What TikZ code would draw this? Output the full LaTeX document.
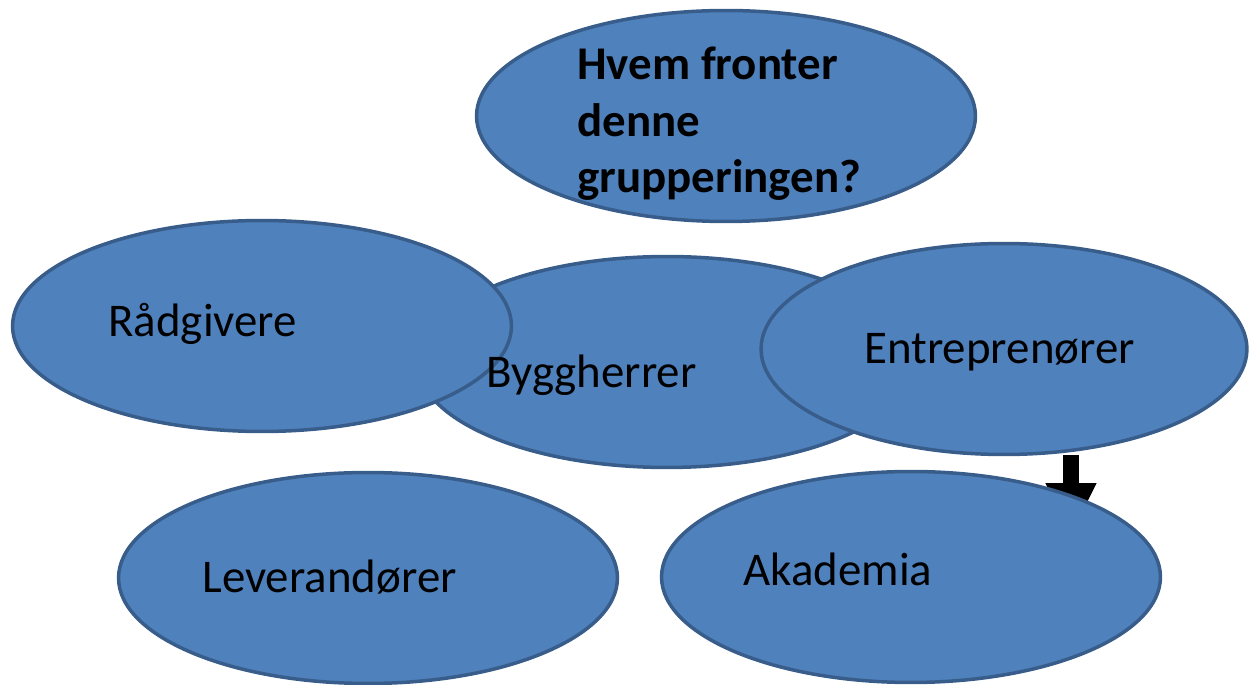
\documentclass[tikz,border=0pt]{standalone}
\usepackage{fontspec}
\setmainfont{Carlito}
\usetikzlibrary{shapes.geometric,arrows.meta}
\definecolor{blobfill}{HTML}{4F81BD}
\definecolor{blobline}{HTML}{385D8A}
\begin{document}
\begin{tikzpicture}[x=0.02cm,y=-0.02cm,
  blob/.style={ellipse,draw=blobline,fill=blobfill,line width=0.07cm,inner sep=0pt,minimum width=9.98cm,minimum height=4.22cm},
  lbl/.style={anchor=base west,inner sep=0pt,font=\fontsize{26.7}{32}\selectfont},
  blockarrow/.style={line width=0.32cm,-{Triangle[length=1.06cm,width=0.94cm]}}]
\useasboundingbox (0,0) rectangle (1249,685);
\node[blob] (bygg) at (667,362) {};
\node[blob] (raad) at (262,326) {};
\node[lbl] (raadt) at (108,337) {Rådgivere};
\node[lbl] (byggt) at (486,388) {Byggherrer};
\node[blob,minimum width=9.72cm] (entr) at (1004,349) {};
\node[lbl] (entrt) at (864,364) {Entreprenører};
\coordinate (a1) at (1071,455);
\coordinate (a2) at (1071,536);
\draw[blockarrow] (a1) -- (a2);
\node[blob] (aka) at (911,577) {};
\node[lbl] (akat) at (743,586) {Akademia};
\node[blob] (lev) at (368,578) {};
\node[lbl] (levt) at (202,593) {Leverandører};
\node[blob] (top) at (726,116) {};
\node[anchor=north west,inner sep=0pt,align=left,font=\fontsize{26.7}{32}\selectfont\bfseries] (topt) at (577,47) {Hvem fronter\\denne\\grupperingen?};
\end{tikzpicture}
\end{document}
